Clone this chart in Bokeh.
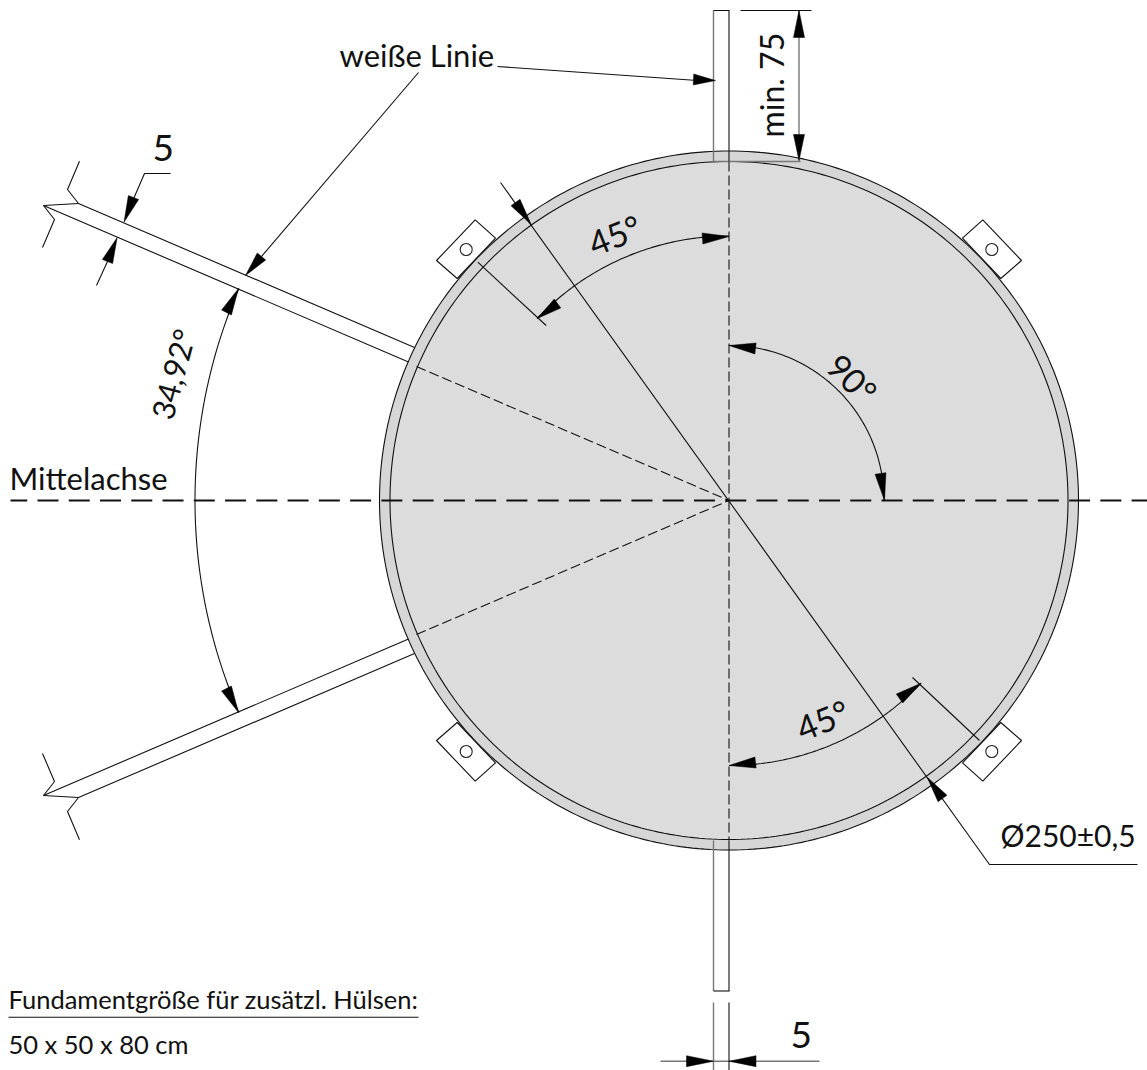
import numpy as np
from bokeh.plotting import figure
from bokeh.embed import file_html
from bokeh.resources import INLINE
from bokeh.core.properties import value

FONT = "Lato"
CENTER = (728.5, 500.0)
R_OUTER, R_INNER = 349.5, 339.0

# tabs (corners, hole centres) in drawing coordinates
tab_xs = [[474.7, 436.0, 456.7, 495.0], [982.3, 1021.0, 1000.3, 962.0],
          [474.7, 436.0, 456.7, 495.0], [982.3, 1021.0, 1000.3, 962.0]]
tab_ys = [[219.3, 260.0, 278.0, 237.7], [219.3, 260.0, 278.0, 237.7],
          [780.7, 740.0, 722.0, 762.3], [780.7, 740.0, 722.0, 762.3]]
hole_x = [465.7, 991.3, 465.7, 991.3]
hole_y = [249.0, 249.0, 751.0, 751.0]

# thin black outlines
black_lines = [
    ([713, 729], [10, 10]),
    ([713, 729], [990.5, 990.5]),
    ([728.5, 728.5], [10, 161]),
    ([728.5, 728.5], [840, 990.5]),
    ([728.5, 728.5], [1002, 1070]),
    ([79, 67, 78, 414], [160.7, 189, 203, 347]),
    ([43, 408], [205, 361.5]),
    ([43, 78], [205, 203]),
    ([43, 54, 42], [205, 219, 247]),
    ([79, 67, 78, 414], [839.3, 811, 797, 653]),
    ([43, 408], [795, 638.5]),
    ([43, 78], [795, 797]),
    ([43, 54, 42], [795, 781, 753]),
    ([740, 811], [10, 10]),
    ([497, 697], [66, 80]),
    ([418, 255], [72, 263]),
    ([170, 144, 128], [173, 173, 210]),
    ([112, 96], [250, 285]),
    ([500, 989, 1137], [182, 864, 864]),
    ([477.3, 545.7], [261.7, 325]),
    ([912, 979], [677, 740]),
    ([8, 418], [1016.7, 1016.7]),
]
# grey lines
grey_lines = [
    ([713, 713], [10, 161]),
    ([713, 713], [840, 990.5]),
    ([713, 713], [1002, 1070]),
    ([713, 800], [161, 161]),
    ([798.5, 798.5], [10, 160]),
    ([660, 819], [1060.7, 1060.7]),
]
# thin dashed lines: centre verticals and strip centre rays
thin_dash_xs = [[728.5, 728.5], [416, 728.5], [416, 728.5], [728.5, 728.5]]
thin_dash_ys = [[161, 500], [366, 500], [634, 500], [500, 840]]

# main axis: first dash start, period and dash length
axis_left, axis_right = 10.0, 1147.0
axis_phase, axis_period, axis_dash = 5.74, 31.26, 21.0

# arcs: radius, start and end angle in degrees (screen: clockwise from +x)
arc_radius = [264.5, 155.0, 265.0, 534.0]
arc_start = [-90.0, -90.0, 90.0, 203.4]
arc_end = [-136.5, 0.0, 43.6, 156.6]

# arrows: tip x, tip y, base x, base y
arrow_tip_x = [798.5, 798.5, 715, 245, 123.5, 116.7, 238, 238, 530.7, 926.7,
               728.5, 536.7, 728.5, 884, 728.5, 920.7, 713, 728.5]
arrow_tip_y = [10, 160, 80, 275, 221.7, 237, 288, 712, 224, 776.7,
               236, 318, 345, 500, 765, 682.7, 1060.7, 1060.7]
arrow_base_x = [798.5, 798.5, 693, 261, 133, 107, 226, 226, 515, 942,
                702, 557, 755, 880, 755, 899, 686, 755.5]
arrow_base_y = [37, 134, 79, 256, 197, 261, 312, 688, 202, 798,
                238, 303, 348, 473, 762, 698, 1060.7, 1060.7]

# texts
labels = ["weiße Linie", "min. 75", "5", "34,92°", "Mittelachse", "45°", "90°", "45°",
          "Ø250±0,5", "Fundamentgröße für zusätzl. Hülsen:", "50 x 50 x 80 cm", "5"]
label_x = [339, 783, 152, 172, 9, 594, 824, 802, 1000, 8, 8, 790]
label_y = [66, 137, 162, 421, 489, 256, 368, 741, 846, 1008, 1053, 1049]
label_size = [31, 32, 37, 31, 31, 34, 34, 34, 30, 25.5, 25.5, 37]
label_angle = [0, 90, 0, 75, 0, 22, -45, 22, 0, 0, 0, 0]
BASELINE_SHIFT = 0.38  # of the font size, the renderer's offset below the anchor

p = figure(width=1147, height=1070, x_range=(0, 1147), y_range=(1070, 0),
           output_backend="svg", toolbar_location=None, min_border=0,
           outline_line_color=None, background_fill_color="white", border_fill_color="white")
p.xaxis.visible = False
p.yaxis.visible = False
p.grid.visible = False


def poly(r):
    t = np.linspace(0, 2 * np.pi, 361)
    return CENTER[0] + r * np.cos(t), CENTER[1] + r * np.sin(t)


# tabs behind the disc
p.patches(tab_xs, tab_ys, fill_color="white", line_color="#111111", line_width=1.1)
xo, yo = poly(R_OUTER)
p.patch(xo, yo, fill_color="#d6d6d6", line_color="#111111", line_width=1.1)
xi, yi = poly(R_INNER)
p.patch(xi, yi, fill_color="#dcdcdc", line_color="#111111", line_width=1.1)
p.circle(hole_x, hole_y, radius=6, fill_color="white", line_color="#222222", line_width=1.1)

p.multi_line(thin_dash_xs, thin_dash_ys, line_color="#111111", line_width=1.1, line_dash="10 4")

seg_xs = []
for x0 in np.arange(axis_phase, axis_right, axis_period):
    a, b = max(x0, axis_left), min(x0 + axis_dash, axis_right)
    seg_xs.append([a, b])
p.multi_line(seg_xs, [[500, 500]] * len(seg_xs), line_color="#111111", line_width=2.0)

p.multi_line([a for a, _ in grey_lines], [b for _, b in grey_lines], line_color="#777777", line_width=1.4)
p.multi_line([a for a, _ in black_lines], [b for _, b in black_lines], line_color="#111111", line_width=1.1)

arc_xs, arc_ys = [], []
for r, a0, a1 in zip(arc_radius, arc_start, arc_end):
    t = np.radians(np.linspace(a0, a1, 80))
    arc_xs.append(CENTER[0] + r * np.cos(t))
    arc_ys.append(CENTER[1] + r * np.sin(t))
p.multi_line(arc_xs, arc_ys, line_color="#111111", line_width=1.1)

hw = 5.5
ax, ay = [], []
for tx, ty, bx, by in zip(arrow_tip_x, arrow_tip_y, arrow_base_x, arrow_base_y):
    d = np.array([bx - tx, by - ty], dtype=float)
    d /= np.hypot(*d)
    n = np.array([-d[1], d[0]])
    ax.append([tx, bx + n[0] * hw, bx - n[0] * hw])
    ay.append([ty, by + n[1] * hw, by - n[1] * hw])
p.patches(ax, ay, fill_color="black", line_color="black", line_width=0.5)

theta = np.radians(label_angle)
shift = BASELINE_SHIFT * np.array(label_size)
text_x = np.array(label_x) - shift * np.sin(theta)
text_y = np.array(label_y) - shift * np.cos(theta)
p.text(text_x, text_y, text=labels, angle=label_angle, angle_units="deg",
       text_font=value(FONT), text_font_size=[f"{s}px" for s in label_size],
       text_color="#111111", text_align="left", text_baseline="alphabetic")

open("out.html", "w").write(file_html(p, INLINE))
